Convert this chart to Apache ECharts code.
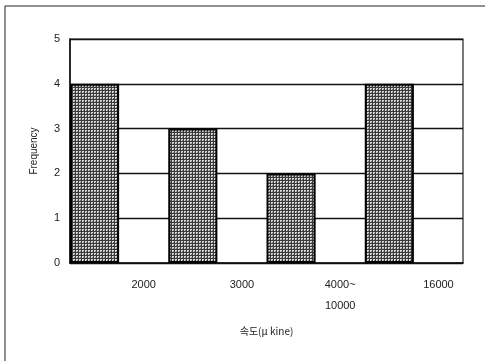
<!DOCTYPE html>
<html><head><meta charset="utf-8">
<script src="https://cdn.jsdelivr.net/npm/echarts@6/dist/echarts.min.js"></script>
<style>html,body{margin:0;padding:0;background:#fff}#c{width:485px;height:361px}</style>
</head><body><div id="c"></div>
<script>
const categories = ['2000', '3000', '4000~\n10000', '16000'];
const frequency = [4, 3, 2, 4];
const yTicks = [0, 1, 2, 3, 4, 5];

// 8 slots: each bar in left half of its category, label in right half
const slotLabels = [];
const slotValues = [];
categories.forEach((c, i) => { slotLabels.push('', c); slotValues.push(frequency[i], '-'); });

const pc = document.createElement('canvas');
pc.width = 3; pc.height = 3;
const g = pc.getContext('2d');
g.fillStyle = '#d8d8d8'; g.fillRect(0, 0, 3, 3);
g.fillStyle = '#3a3a3a';
g.fillRect(0, 0, 3, 1); g.fillRect(0, 0, 1, 3);
g.fillStyle = '#888'; g.fillRect(2, 2, 1, 1);

const font = 'Liberation Sans, Arial, sans-serif';
const chart = echarts.init(document.getElementById('c'), null, {renderer: 'canvas'});
chart.setOption({
  animation: false,
  backgroundColor: '#fff',
  graphic: [{type: 'rect', shape: {x: 5, y: 6, width: 500, height: 380}, style: {fill: 'none', stroke: '#222', lineWidth: 1}}],
  grid: {left: 70, right: 22, top: 39, bottom: 98, show: true, borderColor: '#222', borderWidth: 1.2, backgroundColor: 'transparent'},
  xAxis: {
    type: 'category', data: slotLabels, boundaryGap: true,
    name: '속도(μ kine)', nameLocation: 'middle', nameGap: 63,
    nameTextStyle: {fontFamily: 'Noto Sans CJK KR, ' + font, fontSize: 10, color: '#222'},
    axisLine: {lineStyle: {color: '#111', width: 1.5}},
    axisTick: {show: false},
    axisLabel: {interval: 0, margin: 11, fontFamily: font, fontSize: 11, color: '#222', lineHeight: 21}
  },
  yAxis: {
    type: 'value', min: yTicks[0], max: yTicks[yTicks.length - 1], interval: 1,
    name: 'Frequency', nameLocation: 'middle', nameGap: 31,
    nameTextStyle: {fontFamily: font, fontSize: 10, color: '#222'},
    axisLine: {show: true, lineStyle: {color: '#111', width: 1.5}},
    axisTick: {show: false},
    axisLabel: {margin: 10, fontFamily: font, fontSize: 11, color: '#222'},
    splitLine: {lineStyle: {color: '#111', width: 1.3}}
  },
  series: [{
    type: 'bar', data: slotValues, barWidth: '100%',
    itemStyle: {color: {image: pc, repeat: 'repeat'}, borderColor: '#000', borderWidth: 2}
  }]
});
</script></body></html>
